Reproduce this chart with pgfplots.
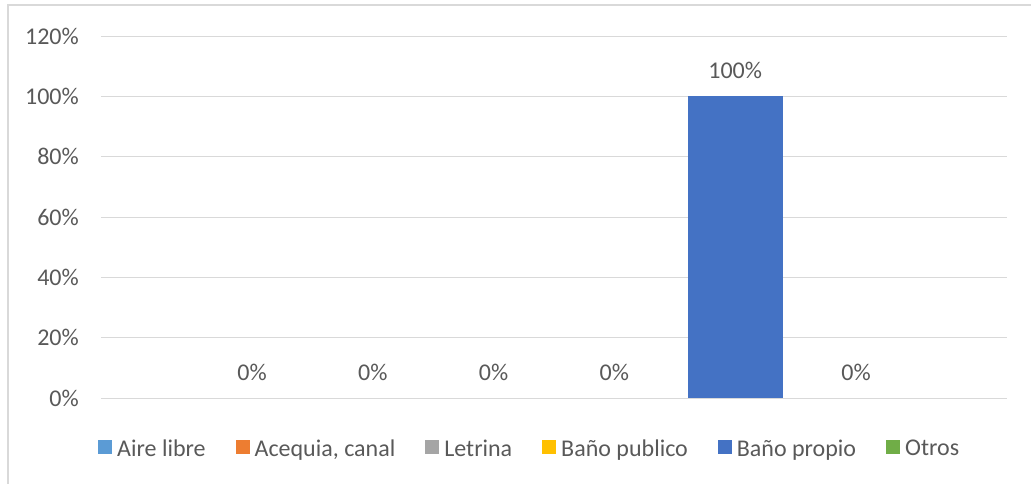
\documentclass[border=0pt]{standalone}
\usepackage{pgfplots}
\pgfplotsset{compat=1.18}
\usepackage{fontspec}
\setmainfont{Carlito}
\definecolor{cA}{HTML}{5B9BD5}
\definecolor{cB}{HTML}{ED7D31}
\definecolor{cC}{HTML}{A5A5A5}
\definecolor{cD}{HTML}{FFC000}
\definecolor{cE}{HTML}{4472C4}
\definecolor{cF}{HTML}{70AD47}
\definecolor{txt}{HTML}{595959}
\definecolor{gridc}{HTML}{D9D9D9}
\newcommand\cf{\fontsize{24}{28}\selectfont}
\pgfkeys{/pgf/number format/assume math mode=true}
\pgfplotsset{
  sqlegend/.style={legend image code/.code={%
    \fill[##1,draw=none,fill opacity=1] (0pt,-4pt) rectangle (14pt,10pt);
    \path (19pt,0pt);}},
}
\begin{document}
\cf
\begin{tikzpicture}[x=1pt,y=1pt]
\useasboundingbox (-101,-85) rectangle (930,398);
\draw[gridc, line width=1.5pt] (-93,-90) -- (-93,393) -- (935,393);
\begin{axis}[
  at={(0,0)}, anchor=south west,
  scale only axis, width=906pt, height=362pt,
  xmin=-1.25, xmax=6.25, ymin=0, ymax=120,
  ytick={0,20,...,120}, xtick=\empty,
  ymajorgrids, grid style={gridc, line width=1pt},
  axis line style={draw=none}, major tick length=0pt,
  yticklabel={\pgfmathprintnumber{\tick}\%},
  yticklabel style={font=\cf, text=txt, anchor=east, inner sep=0pt, xshift=-22pt},
  nodes near coords={\pgfmathprintnumber{\pgfplotspointmeta}\%},
  every node near coord/.append style={font=\cf, text=txt, anchor=base, inner sep=0pt, yshift=18pt, fill opacity=1, text opacity=1},
  clip=false,
  legend columns=6, legend cell align=left,
  legend style={at={(-0.0033,-0.1436)}, anchor=west, draw=none, fill=none, inner sep=0pt,
    font=\cf, text=txt, nodes={inner sep=0pt},
    /tikz/every even column/.append style={column sep=30pt}},
  sqlegend,
]
\addplot[ybar, bar shift=0pt, bar width=0.788, fill=cA, fill opacity=0, draw=none] coordinates {(0,0)};
\addlegendentry{Aire libre}
\addplot[ybar, bar shift=0pt, bar width=0.788, fill=cB, fill opacity=0, draw=none] coordinates {(1,0)};
\addlegendentry{Acequia, canal}
\addplot[ybar, bar shift=0pt, bar width=0.788, fill=cC, fill opacity=0, draw=none] coordinates {(2,0)};
\addlegendentry{Letrina}
\addplot[ybar, bar shift=0pt, bar width=0.788, fill=cD, fill opacity=0, draw=none] coordinates {(3,0)};
\addlegendentry{Baño publico}
\addplot[ybar, bar shift=0pt, bar width=0.788, fill=cE, draw=none] coordinates {(4,100)};
\addlegendentry{Baño propio}
\addplot[ybar, bar shift=0pt, bar width=0.788, fill=cF, fill opacity=0, draw=none] coordinates {(5,0)};
\addlegendentry{Otros}
\end{axis}
\end{tikzpicture}
\end{document}
